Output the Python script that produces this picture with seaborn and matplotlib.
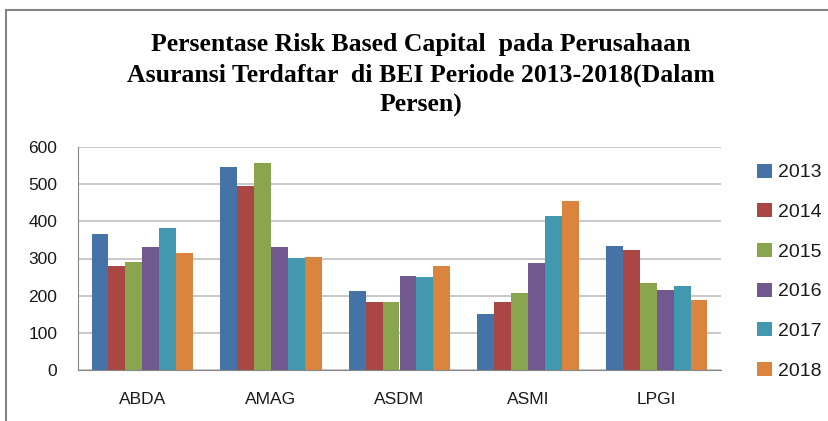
import matplotlib
matplotlib.use("Agg")
import matplotlib.pyplot as plt
import seaborn as sns
import pandas as pd
import numpy as np
from matplotlib.patches import Rectangle

companies = ["ABDA", "AMAG", "ASDM", "ASMI", "LPGI"]
years = ["2013", "2014", "2015", "2016", "2017", "2018"]
v2013 = [367, 545, 212, 152, 333]
v2014 = [281, 494, 182, 184, 322]
v2015 = [290, 557, 182, 207, 233]
v2016 = [330, 330, 253, 287, 215]
v2017 = [382, 301, 250, 414, 225]
v2018 = [316, 305, 281, 454, 187]
colors = ["#4572A7", "#AA4643", "#89A54E", "#71588F", "#4198AF", "#DB843D"]

series = [v2013, v2014, v2015, v2016, v2017, v2018]
rows = []
for y, vals in zip(years, series):
    for c, v in zip(companies, vals):
        rows.append({"company": c, "year": y, "value": v})
df = pd.DataFrame(rows)

sns.set_style("white")
fig = plt.figure(figsize=(8.29, 4.21), dpi=100)
ax = fig.add_axes([78/829, 1-370/421, (721-78)/829, (370-147)/421])

sns.barplot(data=df, x="company", y="value", hue="year", order=companies,
            hue_order=years, palette=colors, width=0.79, saturation=1,
            ax=ax, legend=False, linewidth=0)

ax.set_xlim(-0.5, 4.5)
ax.set_ylim(0, 600)
ax.set_yticks(range(0, 601, 100))
ax.grid(axis="y", color="#BFBFBF", linewidth=1.2)
ax.set_axisbelow(True)
for s in ["top", "right"]:
    ax.spines[s].set_visible(False)
ax.spines["left"].set_color("#868686")
ax.spines["bottom"].set_color("#868686")
ax.set_xlabel("")
ax.set_ylabel("")
ax.set_xticks(np.arange(5))
ax.set_xticks(np.arange(-0.5, 5, 1), minor=True)
ax.tick_params(axis="x", which="major", length=0, labelsize=12.5, pad=16, labelcolor="#1a1a1a")
ax.tick_params(axis="x", which="minor", length=5, color="#868686", direction="out")
ax.tick_params(axis="y", length=6, color="#868686", labelsize=12.5, pad=9, labelcolor="#1a1a1a")
for lab in ax.get_xticklabels() + ax.get_yticklabels():
    lab.set_fontfamily("Liberation Sans")

# title
title_lines = ["Persentase Risk Based Capital  pada Perusahaan",
               "Asuransi Terdaftar  di BEI Periode 2013-2018(Dalam",
               "Persen)"]
for i, line in enumerate(title_lines):
    fig.text(0.5 + 6/829, 1-(45 + 30*i)/421, line,
             ha="center", va="center", fontsize=18.5, fontweight="bold",
             family="Liberation Serif", color="#000000")

# legend
handles = [Rectangle((0, 0), 1, 1, facecolor=c, edgecolor="none") for c in colors]
leg = fig.legend(handles, years, loc="upper left", bbox_to_anchor=(740/829, 1-146/421),
                 frameon=False, handlelength=0.75, handleheight=0.75,
                 handletextpad=0.3, labelspacing=1.12,
                 prop={"family": "Liberation Sans", "size": 14})
for t in leg.get_texts():
    t.set_color("#1a1a1a")

# chart border
fig.add_artist(Rectangle((6/829, -0.05), 1.1, 1-10/421 + 0.05, transform=fig.transFigure,
                         fill=False, edgecolor="#868686", linewidth=1.5))

fig.savefig("out.png", dpi=100)
